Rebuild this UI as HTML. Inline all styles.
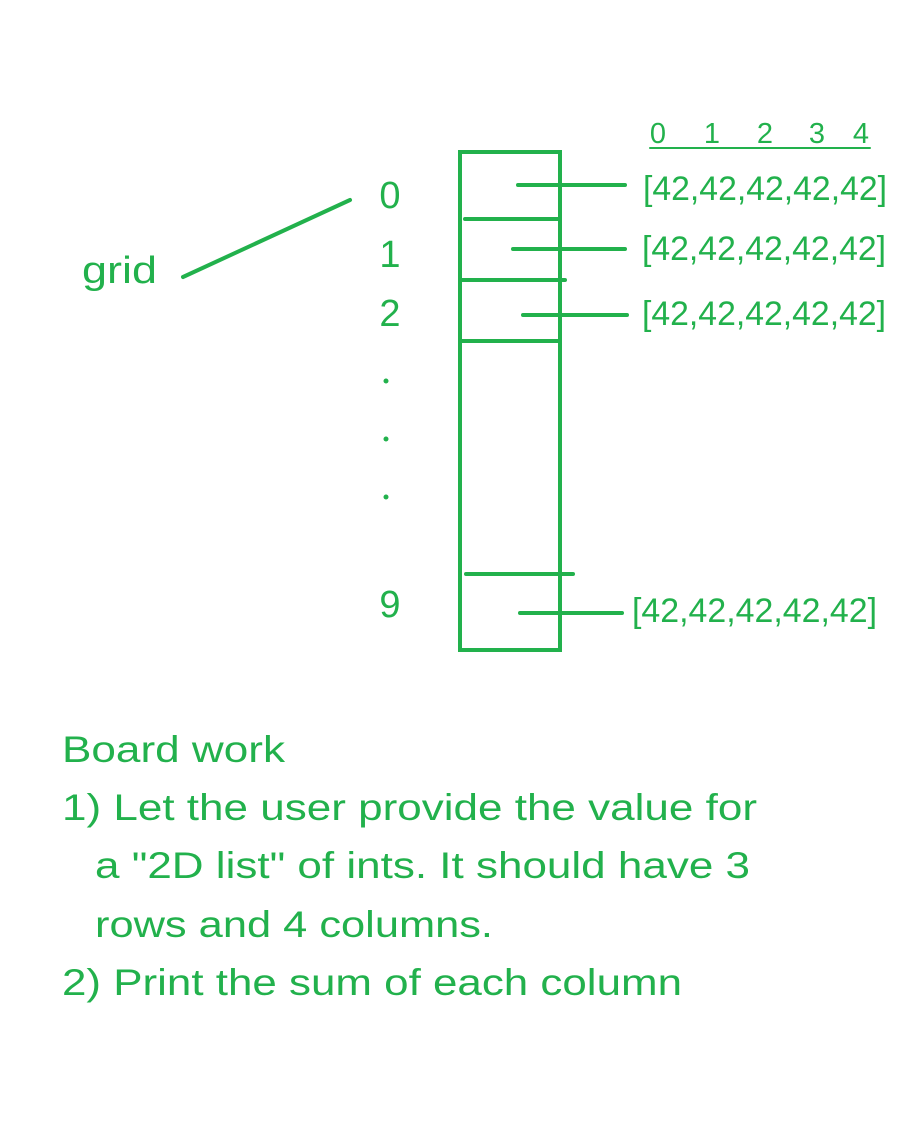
<!DOCTYPE html>
<html><head><meta charset="utf-8"><style>
html,body{margin:0;padding:0;background:#fff;}
svg{display:block;}
text{font-family:"Liberation Sans",sans-serif;fill:#22b14c;}
</style></head><body>
<svg width="923" height="1130" viewBox="0 0 923 1130" xmlns="http://www.w3.org/2000/svg">
<g stroke="#22b14c" stroke-width="4" stroke-linecap="round" fill="none">
<rect x="460" y="152" width="100" height="498"/>
<line x1="465" y1="219" x2="558" y2="219"/>
<line x1="460" y1="280" x2="565" y2="280"/>
<line x1="460" y1="341" x2="558" y2="341"/>
<line x1="466" y1="574" x2="573" y2="574"/>
<line x1="518" y1="185" x2="625" y2="185"/>
<line x1="513" y1="249" x2="625" y2="249"/>
<line x1="523" y1="315" x2="627" y2="315"/>
<line x1="520" y1="613" x2="622" y2="613"/>
<line x1="183" y1="277" x2="350" y2="200"/>
<line x1="650" y1="148" x2="870" y2="148" stroke-width="2"/>
</g>
<g font-size="38">
<text x="82" y="283" textLength="75" lengthAdjust="spacingAndGlyphs">grid</text>
<text x="390" y="208" text-anchor="middle">0</text>
<text x="390" y="267" text-anchor="middle">1</text>
<text x="390" y="326" text-anchor="middle">2</text>
<text x="390" y="617" text-anchor="middle">9</text>
</g>
<g fill="#22b14c">
<circle cx="386" cy="381" r="2.5"/>
<circle cx="386" cy="439" r="2.5"/>
<circle cx="386" cy="497" r="2.5"/>
</g>
<g font-size="29" text-anchor="middle">
<text x="658" y="143">0</text>
<text x="712" y="143">1</text>
<text x="765" y="143">2</text>
<text x="817" y="143">3</text>
<text x="861" y="143">4</text>
</g>
<g font-size="34">
<text x="643" y="200" textLength="244" lengthAdjust="spacingAndGlyphs">[42,42,42,42,42]</text>
<text x="642" y="260" textLength="244" lengthAdjust="spacingAndGlyphs">[42,42,42,42,42]</text>
<text x="642" y="325" textLength="244" lengthAdjust="spacingAndGlyphs">[42,42,42,42,42]</text>
<text x="632" y="622" textLength="245" lengthAdjust="spacingAndGlyphs">[42,42,42,42,42]</text>
</g>
<g font-size="37">
<text x="62" y="762" textLength="223" lengthAdjust="spacingAndGlyphs">Board work</text>
<text x="62" y="820" textLength="695" lengthAdjust="spacingAndGlyphs">1) Let the user provide the value for</text>
<text x="95" y="878" textLength="655" lengthAdjust="spacingAndGlyphs">a "2D list" of ints. It should have 3</text>
<text x="95" y="937" textLength="398" lengthAdjust="spacingAndGlyphs">rows and 4 columns.</text>
<text x="62" y="995" textLength="620" lengthAdjust="spacingAndGlyphs">2) Print the sum of each column</text>
</g>
</svg>
</body></html>
